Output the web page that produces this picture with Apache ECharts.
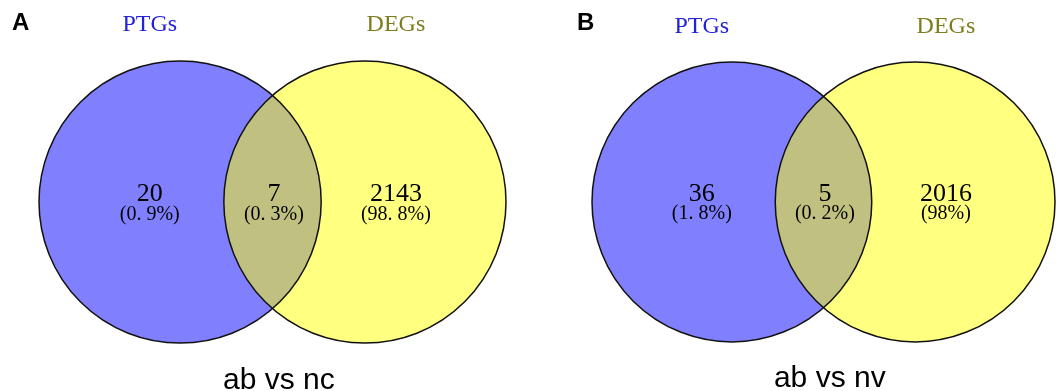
<!DOCTYPE html>
<html>
<head>
<meta charset="utf-8">
<script src="https://cdn.jsdelivr.net/npm/echarts@6/dist/echarts.min.js"></script>
<style>
html,body{margin:0;padding:0;background:#fff;}
#chart{width:1060px;height:391px;}
</style>
</head>
<body>
<div id="chart"></div>
<script>
// ---- data ----
const panelLetters = ['A', 'B'];
const comparisons = ['ab vs nc', 'ab vs nv'];
const setNames = ['PTGs', 'DEGs'];
const onlyPTG = [20, 36];
const shared = [7, 5];
const onlyDEG = [2143, 2016];
const onlyPTGPct = ['0. 9%', '1. 8%'];
const sharedPct = ['0. 3%', '0. 2%'];
const onlyDEGPct = ['98. 8%', '98%'];

// ---- layout (in circle-radius units) ----
const D = 1.31;            // distance between circle centres
const LBL_X = [-0.215, 0.665, 1.53];
const NAME_Y = 1.255, NUM_Y = 0.055, PCT_Y = -0.087, CMP_X = 0.7, CMP_Y = -1.265;
const grids = [
  {left: 39, top: 61, width: 467, height: 282},
  {left: 592, top: 62, width: 463, height: 280}
];
const letterPos = [{left: 12, top: 11}, {left: 577, top: 11}];

const BLUE = '#8080ff', YELLOW = '#ffff80', LENS = '#c0c080';
const SERIF = '"Liberation Serif", "DejaVu Serif", serif';
const SANS = '"Liberation Sans", Arial, sans-serif';

function makeRender(i) {
  return function (params, api) {
    const R = api.size([1, 0])[0];
    const c1 = api.coord([0, 0]);
    const c2 = api.coord([D, 0]);
    const h = Math.sqrt(1 - D * D / 4);
    const p1 = api.coord([D / 2, h]);
    const p2 = api.coord([D / 2, -h]);
    const lensPath = 'M' + p1[0] + ' ' + p1[1] +
      ' A' + R + ' ' + R + ' 0 0 1 ' + p2[0] + ' ' + p2[1] +
      ' A' + R + ' ' + R + ' 0 0 1 ' + p1[0] + ' ' + p1[1] + ' Z';
    const txt = (x, y, text, font, fill) => {
      const p = api.coord([x, y]);
      return {type: 'text', x: p[0], y: p[1], style: {
        text: text, font: font, fill: fill, align: 'center', verticalAlign: 'middle',
        textAlign: 'center', textVerticalAlign: 'middle'}};
    };
    const children = [
      {type: 'circle', shape: {cx: c1[0], cy: c1[1], r: R}, style: {fill: BLUE}},
      {type: 'circle', shape: {cx: c2[0], cy: c2[1], r: R}, style: {fill: YELLOW}},
      {type: 'path', shape: {pathData: lensPath}, style: {fill: LENS}},
      {type: 'circle', shape: {cx: c1[0], cy: c1[1], r: R}, style: {fill: 'none', stroke: '#111', lineWidth: 1.5}},
      {type: 'circle', shape: {cx: c2[0], cy: c2[1], r: R}, style: {fill: 'none', stroke: '#111', lineWidth: 1.5}},
      txt(LBL_X[0], NAME_Y, setNames[0], '24px ' + SERIF, '#2222d8'),
      txt(LBL_X[2], NAME_Y, setNames[1], '24px ' + SERIF, '#7d7d1e'),
      txt(LBL_X[0], NUM_Y, String(onlyPTG[i]), '26px ' + SERIF, '#000'),
      txt(LBL_X[1], NUM_Y, String(shared[i]), '26px ' + SERIF, '#000'),
      txt(LBL_X[2], NUM_Y, String(onlyDEG[i]), '26px ' + SERIF, '#000'),
      txt(LBL_X[0], PCT_Y, '(' + onlyPTGPct[i] + ')', '20px ' + SERIF, '#000'),
      txt(LBL_X[1], PCT_Y, '(' + sharedPct[i] + ')', '20px ' + SERIF, '#000'),
      txt(LBL_X[2], PCT_Y, '(' + onlyDEGPct[i] + ')', '20px ' + SERIF, '#000'),
      txt(CMP_X, CMP_Y, comparisons[i], '30px ' + SANS, '#000')
    ];
    return {type: 'group', children: children};
  };
}

const chart = echarts.init(document.getElementById('chart'), null, {renderer: 'canvas'});
chart.setOption({
  animation: false,
  backgroundColor: '#fff',
  title: panelLetters.map((l, i) => ({
    text: l, left: letterPos[i].left, top: letterPos[i].top, padding: 0,
    textStyle: {fontSize: 24, fontWeight: 'bold', fontFamily: SANS, color: '#000'}
  })),
  grid: grids,
  xAxis: grids.map((g, i) => ({type: 'value', gridIndex: i, min: -1, max: 1 + D, show: false})),
  yAxis: grids.map((g, i) => ({type: 'value', gridIndex: i, min: -1, max: 1, show: false})),
  series: panelLetters.map((l, i) => ({
    type: 'custom', xAxisIndex: i, yAxisIndex: i, clip: false, silent: true,
    data: [[0, 0]], renderItem: makeRender(i)
  }))
});
</script>
</body>
</html>
